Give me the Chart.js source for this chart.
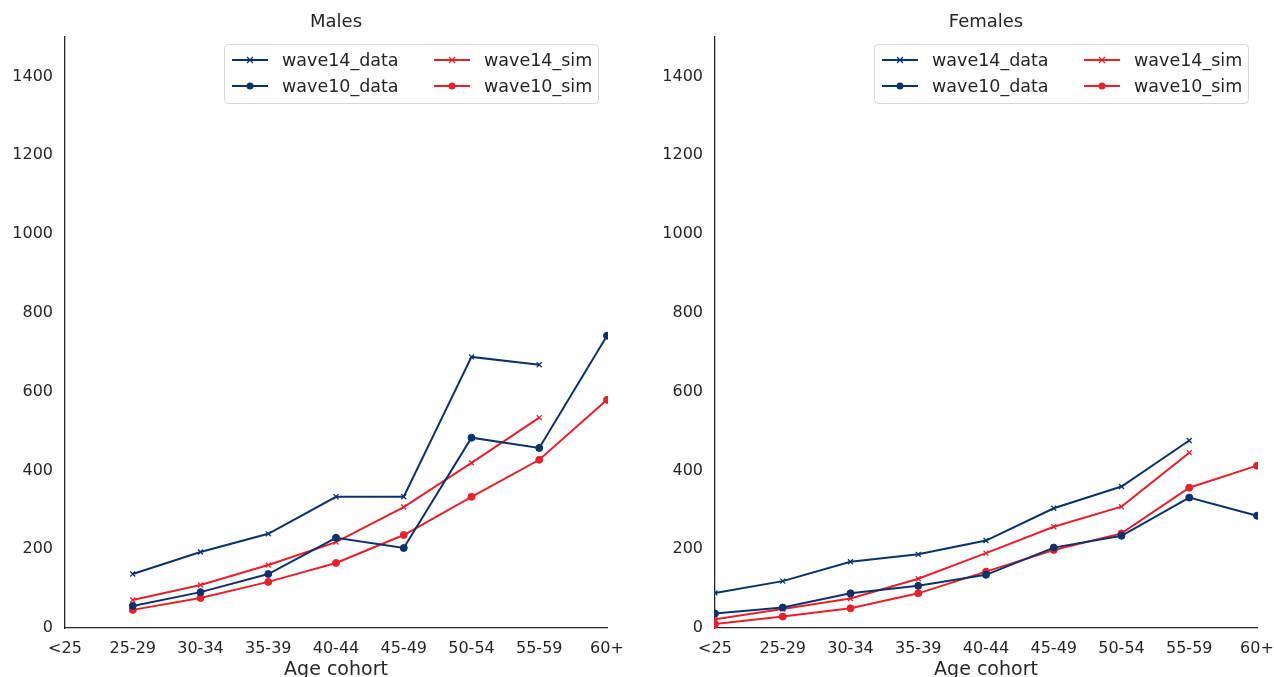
<!DOCTYPE html>
<html>
<head>
<meta charset="utf-8">
<script src="https://cdn.jsdelivr.net/npm/chart.js@4.4.1/dist/chart.umd.min.js"></script>
<style>
  html,body{margin:0;padding:0;background:#fff;overflow:hidden;}
  .panel{position:absolute;top:0;height:677px;}
  #p-m{left:0;width:637px;} #p-f{left:637px;width:645px;}
</style>
</head>
<body>
<div class="panel" id="p-m"><canvas id="males"></canvas></div>
<div class="panel" id="p-f"><canvas id="females"></canvas></div>
<script>
const cohorts = ['<25','25-29','30-34','35-39','40-44','45-49','50-54','55-59','60+'];
const seriesNames = ['wave14_data','wave10_data','wave14_sim','wave10_sim'];

const males_w14_data = [null,137,193,239,333,333,688,668,null];
const males_w10_data = [null,56,91,137,229,203,483,457,742];
const males_w14_sim  = [null,71,109,160,218,307,419,534,null];
const males_w10_sim  = [null,46,76,117,165,236,333,427,579];

const fem_w14_data = [89,119,168,187,222,304,359,476,null];
const fem_w10_data = [37,52,88,107,135,204,234,331,285];
const fem_w14_sim  = [22,48,75,125,190,257,308,445,null];
const fem_w10_sim  = [10,29,50,88,143,198,240,356,412];

const yTicks = [0,200,400,600,800,1000,1200,1400];

const BLUE = '#0b326e', RED = '#e8202a', TXT = '#262626';
const FONT = '"DejaVu Sans", sans-serif';

function ds(label, data, color, style){
  return {
    label, data, borderColor: color, backgroundColor: color,
    borderWidth: 2, pointStyle: style,
    pointRadius: 3.5,
    pointBorderWidth: style==='circle' ? 1 : 1.3,
    spanGaps: false, tension: 0,
    // markers on the plot edge get cut like in matplotlib
    clip: {left:1, right:1, top:10, bottom:10}
  };
}

// legend drawn inside the plot area, two columns like matplotlib
const innerLegend = {
  id:'innerLegend',
  afterDatasetsDraw(chart){
    const {ctx, chartArea:a} = chart;
    const w = 374, h = 59;
    const x0 = a.right - 9 - w, y0 = a.top + 7;
    ctx.save();
    ctx.beginPath();
    ctx.roundRect(x0+0.5, y0+0.5, w, h, 4);
    ctx.fillStyle = 'rgba(255,255,255,0.85)';
    ctx.fill();
    ctx.strokeStyle = '#d6d6d6';
    ctx.lineWidth = 1;
    ctx.stroke();
    ctx.font = '17.5px ' + FONT;
    ctx.textBaseline = 'middle';
    chart.data.datasets.forEach((d,i)=>{
      const col = Math.floor(i/2), row = i%2;
      const lx = x0 + 8 + col*202, ly = y0 + 16 + row*26;
      ctx.strokeStyle = d.borderColor; ctx.lineWidth = 2;
      ctx.beginPath(); ctx.moveTo(lx, ly); ctx.lineTo(lx+36, ly); ctx.stroke();
      const cx = lx + 18;
      if (d.pointStyle==='circle'){
        ctx.fillStyle = d.borderColor;
        ctx.beginPath(); ctx.arc(cx, ly, 3.5, 0, Math.PI*2); ctx.fill();
      } else {
        ctx.lineWidth = 1.3;
        ctx.beginPath();
        ctx.moveTo(cx-3,ly-3); ctx.lineTo(cx+3,ly+3);
        ctx.moveTo(cx+3,ly-3); ctx.lineTo(cx-3,ly+3);
        ctx.stroke();
      }
      ctx.fillStyle = TXT;
      ctx.fillText(d.label, lx + 50, ly + 1);
    });
    ctx.restore();
  }
};

function makeChart(id, title, series, yWidth, rightPad){
  const colors = [BLUE, BLUE, RED, RED];
  const styles = ['crossRot','circle','crossRot','circle'];
  return new Chart(document.getElementById(id), {
    type:'line',
    data:{
      labels: cohorts,
      datasets: series.map((s,i)=> ds(seriesNames[i], s, colors[i], styles[i]))
    },
    plugins:[innerLegend],
    options:{
      responsive:true, maintainAspectRatio:false, animation:false,
      layout:{ padding:{ left:0, right:rightPad, top:0, bottom:0 } },
      plugins:{
        legend:{ display:false },
        tooltip:{ enabled:false },
        title:{ display:true, text:title, color:TXT, fullSize:false,
          font:{ family:FONT, size:18, weight:'normal' }, padding:{ top:12, bottom:3.4 } }
      },
      scales:{
        x:{
          type:'category', offset:false,
          grid:{ display:false },
          border:{ display:true, color:TXT, width:1.3 },
          ticks:{ color:TXT, font:{ family:FONT, size:16 }, padding:3, maxRotation:0, autoSkip:false },
          title:{ display:true, text:'Age cohort', color:TXT, font:{ family:FONT, size:19 }, padding:{ top:0, bottom:-4 } },
          afterFit(s){ s.height = 49; }
        },
        y:{
          min:0, max:1500,
          grid:{ display:false },
          border:{ display:true, color:TXT, width:1.3 },
          ticks:{ color:TXT, font:{ family:FONT, size:16 }, padding:4, stepSize:200,
            callback:v=>String(v) },
          afterBuildTicks(s){ s.ticks = yTicks.map(v=>({value:v})); },
          afterFit(s){ s.width = yWidth; }
        }
      }
    }
  });
}

makeChart('males','Males',[males_w14_data, males_w10_data, males_w14_sim, males_w10_sim], 65, 30);
makeChart('females','Females',[fem_w14_data, fem_w10_data, fem_w14_sim, fem_w10_sim], 78, 25);
</script>
</body>
</html>
